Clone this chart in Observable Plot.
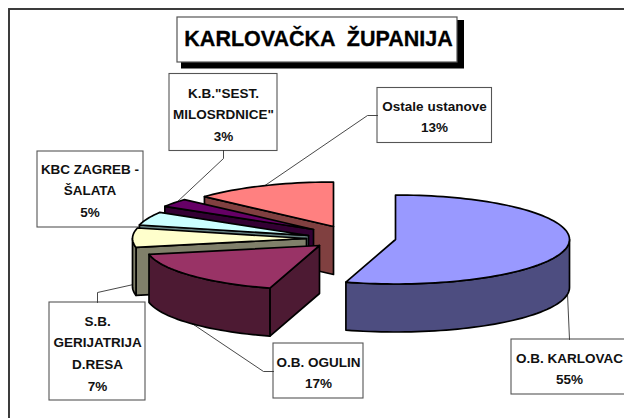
<!DOCTYPE html>
<html>
<head>
<meta charset="utf-8">
<script src="https://cdn.jsdelivr.net/npm/d3@7"></script>
<script src="https://cdn.jsdelivr.net/npm/@observablehq/plot@0.6"></script>
<style>
html,body{margin:0;padding:0;background:#fff}
svg{display:block}
</style>
</head>
<body>
<div id="chart"></div>
<script>
// ---- data ----
const chartTitle = "KARLOVAČKA  ŽUPANIJA";
const categories = ["O.B. KARLOVAC", "O.B. OGULIN", "S.B. GERIJATRIJA D.RESA", "KBC ZAGREB - ŠALATA", "K.B.\"SEST. MILOSRDNICE\"", "Ostale ustanove"];
const values = [54.6, 17.2, 7.0, 4.9, 3.0, 13.3];
const labelLines = [
  ["O.B. KARLOVAC"],
  ["O.B. OGULIN"],
  ["S.B.", "GERIJATRIJA", "D.RESA"],
  ["KBC ZAGREB -", "ŠALATA"],
  ["K.B.\"SEST.", "MILOSRDNICE\""],
  ["Ostale ustanove"]
];

// ---- styles ----
const topColors = ["#9999ff", "#993366", "#ffffcc", "#ccffff", "#660066", "#ff8080"];
const sideColors = ["#4d4d80", "#4d1a33", "#80806a", "#668080", "#330033", "#804040"];

// ---- layout (page pixels) ----
const rx = 174, ry = 44.5, depth = 48;
const sliceCenters = [[395, 239], [319, 245], [306, 238], [308, 235], [313, 229], [333, 226]];
const boxes = [
  {x1: 511, x2: 628, y1: 339, y2: 394, cx: 569, first: 362},
  {x1: 273, x2: 363, y1: 343, y2: 398, cx: 318, first: 366},
  {x1: 49, x2: 145, y1: 302, y2: 400, cx: 97, first: 325},
  {x1: 37, x2: 143, y1: 151, y2: 227, cx: 89.5, first: 173},
  {x1: 169, x2: 277, y1: 73.5, y2: 150.5, cx: 223, first: 97},
  {x1: 377, x2: 491.5, y1: 87.5, y2: 142.5, cx: 434, first: 110}
];
const leaders = [
  [[569, 339], [567, 293]],
  [[273, 371], [263, 371], [190, 322]],
  [[97, 302], [97, 292], [133, 284]],
  [],
  [[223, 150], [223, 158], [175, 203]],
  [[377, 115], [367, 115], [263, 186]]
];
const lineStep = 21.7;

// ---- slice geometry from the values ----
const total = d3.sum(values);
let acc = 0;
const slices = values.map((v, i) => {
  const a0 = acc / total * 360;
  acc += v;
  return {i, a0, a1: acc / total * 360, c: sliceCenters[i]};
});
const pt = (s, a, dz = 0) => {
  const r = a * Math.PI / 180;
  return {x: s.c[0] + rx * Math.sin(r), y: s.c[1] - ry * Math.cos(r) + dz};
};
const arc = (s, a0, a1, dz = 0) => {
  const n = Math.max(2, Math.ceil((a1 - a0) / 2));
  return d3.range(n + 1).map(k => pt(s, a0 + (a1 - a0) * k / n, dz));
};
const apex = (s, dz = 0) => ({x: s.c[0], y: s.c[1] + dz});

const sliceStyle = {x: "x", y: "y", stroke: "#000", strokeWidth: 1.7, strokeLinejoin: "round", curve: "linear-closed"};
const sliceMarks = [];
// painted from back to front
for (const i of [5, 4, 3, 2, 1, 0]) {
  const s = slices[i];
  const side = sideColors[i];
  // cut wall along the slice's starting radius
  if (s.a0 > 0) {
    sliceMarks.push(Plot.line(
      [pt(s, s.a0), apex(s), apex(s, depth), pt(s, s.a0, depth)],
      {...sliceStyle, fill: side}));
  }
  // rim, only where it faces the viewer
  const f0 = Math.max(s.a0, 90), f1 = Math.min(s.a1, 270);
  if (f1 > f0) {
    sliceMarks.push(Plot.line(
      [...arc(s, f0, f1), ...arc(s, f0, f1, depth).reverse()],
      {...sliceStyle, fill: side}));
  }
  // top face
  sliceMarks.push(Plot.line(
    [apex(s), ...arc(s, s.a0, s.a1)],
    {...sliceStyle, fill: topColors[i]}));
}

// ---- label boxes, leaders, text ----
const labelText = categories.flatMap((c, i) => {
  const lines = [...labelLines[i], Math.round(values[i] / total * 100) + "%"];
  return lines.map((t, k) => ({t, x: boxes[i].cx, y: boxes[i].first + k * lineStep}));
});
const leaderPts = leaders.flatMap((l, i) => l.map(p => ({x: p[0], y: p[1], i})));

const chart = Plot.plot({
  width: 624,
  height: 418,
  margin: 0,
  x: {domain: [0, 624], range: [0, 624], axis: null},
  y: {domain: [0, 418], range: [0, 418], axis: null},
  style: {background: "#fff"},
  marks: [
    // outer frame
    Plot.rect([{x1: 9, x2: 640, y1: 9, y2: 440}], {x1: "x1", x2: "x2", y1: "y1", y2: "y2", fill: "#fff", stroke: "#333", strokeWidth: 1.9}),
    // title box
    Plot.rect([{x1: 181, x2: 464, y1: 20, y2: 68.5}], {x1: "x1", x2: "x2", y1: "y1", y2: "y2", fill: "#000"}),
    Plot.rect([{x1: 177, x2: 457, y1: 17, y2: 62}], {x1: "x1", x2: "x2", y1: "y1", y2: "y2", fill: "#fff", stroke: "#555", strokeWidth: 1.2}),
    Plot.text([chartTitle], {x: () => 318, y: () => 45, text: d => d, fontSize: 21.5, fontWeight: "bold", fontFamily: "Liberation Sans", textAnchor: "middle", lineAnchor: "bottom", fill: "#000", stroke: "#000", strokeWidth: 0.3}),
    // label boxes
    Plot.rect(boxes, {x1: "x1", x2: "x2", y1: "y1", y2: "y2", fill: "#fff", stroke: "#555", strokeWidth: 1.1}),
    // leaders
    Plot.line(leaderPts, {x: "x", y: "y", z: "i", stroke: "#333", strokeWidth: 0.9}),
    // pie
    ...sliceMarks,
    // label text
    Plot.text(labelText, {x: "x", y: "y", text: "t", fontSize: 13.5, fontWeight: "bold", fontFamily: "Liberation Sans", textAnchor: "middle", lineAnchor: "bottom", fill: "#111"})
  ]
});
document.getElementById("chart").appendChild(chart);
</script>
</body>
</html>
